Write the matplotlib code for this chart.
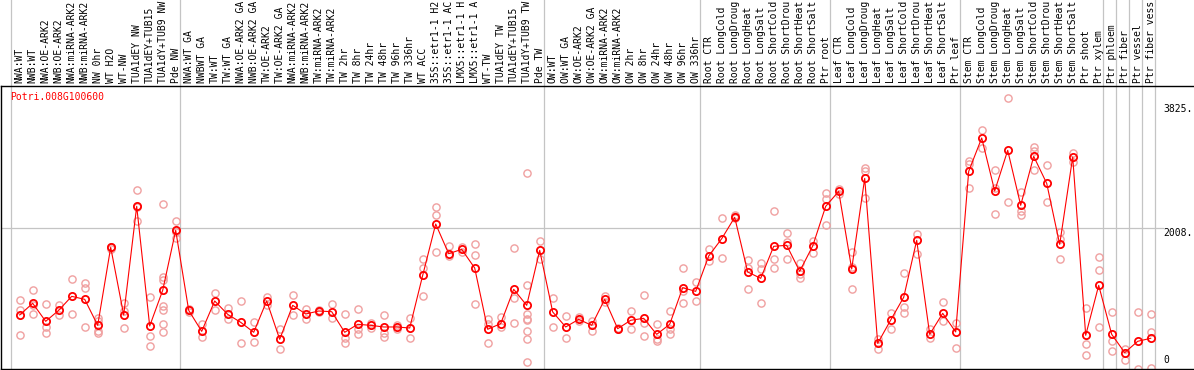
import matplotlib
matplotlib.use("Agg")
import matplotlib.pyplot as plt
import matplotlib.transforms as mtransforms

gene = "Potri.008G100600"

labels = [
    "NWA:WT", "NWB:WT", "NWA:OE-ARK2", "NWB:OE-ARK2", "NWA:miRNA-ARK2", "NWB:miRNA-ARK2",
    "NW 0hr", "WT H2O", "WT-NW", "TUA1dEY NW", "TUA1dEY+TUB15", "TUA1dY+TUB9 NW", "Pde NW",
    "NWA:WT GA", "NWBWT GA", "TW:WT", "TW:WT GA", "NWA:OE-ARK2 GA", "NWB:OE-ARK2 GA",
    "TW:OE-ARK2", "TW:OE-ARK2 GA", "NWA:miRNA-ARK2", "NWB:miRNA-ARK2", "TW:miRNA-ARK2",
    "TW:miRNA-ARK2", "TW 2hr", "TW 8hr", "TW 24hr", "TW 48hr", "TW 96hr", "TW 336hr",
    "WT ACC", "35S::etr1-1 H2", "35S::etr1-1 AC", "LMX5::etr1-1 H", "LMX5::etr1-1 A",
    "WT-TW", "TUA1dEY TW", "TUA1dEY+TUB15", "TUA1dY+TUB9 TW", "Pde TW",
    "OW:WT", "OW:WT GA", "OW:OE-ARK2", "OW:OE-ARK2 GA", "OW:miRNA-ARK2", "OW:miRNA-ARK2",
    "OW 2hr", "OW 8hr", "OW 24hr", "OW 48hr", "OW 96hr", "OW 336hr",
    "Root CTR", "Root LongCold", "Root LongDroug", "Root LongHeat", "Root LongSalt",
    "Root ShortCold", "Root ShortDrou", "Root ShortHeat", "Root ShortSalt", "Ptr root",
    "Leaf CTR", "Leaf LongCold", "Leaf LongDroug", "Leaf LongHeat", "Leaf LongSalt",
    "Leaf ShortCold", "Leaf ShortDrou", "Leaf ShortHeat", "Leaf ShortSalt", "Ptr leaf",
    "Stem CTR", "Stem LongCold", "Stem LongDroug", "Stem LongHeat", "Stem LongSalt",
    "Stem ShortCold", "Stem ShortDrou", "Stem ShortHeat", "Stem ShortSalt",
    "Ptr shoot", "Ptr xylem", "Ptr phloem", "Ptr fiber", "Ptr vessel", "Ptr fiber vess",
]

means = [
    738, 909, 645, 806, 1011, 967, 586, 1729, 738, 2330, 576, 1099, 1978,
    806, 498, 943, 747, 630, 484, 943, 381, 879, 752, 796, 786, 484, 601, 586, 562, 562,
    547, 1319, 2071, 1636, 1700, 1426, 528, 611, 1114, 879, 1685,
    782, 562, 674, 586, 967, 537, 660, 689, 454, 601, 1138, 1084,
    1602, 1856, 2169, 1368, 1275, 1744, 1759, 1378, 1749, 2330,
    2550, 1412, 2740, 322, 664, 997, 1832, 454, 762, 489,
    2843, 3332, 2555, 3151, 2345, 3063, 2667, 1773, 3053, 440, 1172,
    454, 186, 352, 396,
]

replicates = [
    [953, 811, 440], [1099, 747, 880], [894, 562, 469], [884, 733], [1260, 747],
    [1202, 1133, 557], [689, 645, 503, 469], [1740, 1729, 1700], [909, 796, 542],
    [2565, 2110, 2320], [997, 430, 278], [2359, 1295, 1255, 870, 811, 606, 493],
    [2110, 1950, 1871],
    [830, 806, 780], [606, 410], [1055, 811], [835, 679], [943, 327], [630, 337],
    [1006, 879], [532, 234], [1026, 733], [830, 674], [811, 777], [894, 689],
    [747, 405, 327], [821, 528, 454], [625, 552], [733, 479, 415], [586, 528],
    [689, 405], [1553, 1421, 1011], [2315, 2198, 1666], [1744, 1597], [1739, 1666],
    [1773, 1612, 894], [674, 606, 322], [708, 567], [1715, 982, 625],
    [2814, 1172, 757, 674, 660, 498, 381, 44], [1822, 1553],
    [982, 557], [723, 396], [708, 645], [650, 503], [1016, 928], [552, 530],
    [791, 532], [1026, 625, 430], [601, 381, 352], [791, 528, 454], [1421, 1089, 909],
    [1216, 943],
    [1700, 1529], [2154, 1568], [2208, 2188, 2160], [1544, 1431, 1119],
    [1495, 1407, 909], [2257, 1553, 1426], [1934, 1807, 1558], [1505, 1343, 1275],
    [1822, 1651], [2525, 2433, 2052],
    [2579, 2506], [1666, 1440, 1119], [2887, 2848, 2457], [381, 244], [762, 528],
    [1348, 860, 772], [1920, 1636], [528, 396], [928, 650], [625, 249],
    [3000, 2955, 2599], [3449, 3190], [2863, 2599, 2213], [3913, 2389],
    [2540, 2267, 2208], [3200, 3141, 2863], [2936, 2389], [1959, 1847, 1553],
    [3117, 2985], [840, 308, 147], [1583, 1397, 562],
    [782, 357, 205], [234, 78], [782, -60], [747, 489, -39],
]

group_starts = [0, 13, 41, 53, 63, 73, 84, 85, 86, 87, 88]
ytick_values = [3825, 2008, 0]
ytick_texts = ["3825.", "2008.", "0"]

W, H = 1194, 370
fig = plt.figure(figsize=(W / 100, H / 100), dpi=100)
ax_top_px, ax_bot_px = 86, 369
ax = fig.add_axes([1 / W, (H - ax_bot_px) / H, (W - 1) / W, (ax_bot_px - ax_top_px) / H])

x0_px, step_px = 19.7, 13.0
ax.set_xlim((1 - x0_px) / step_px, (W - x0_px) / step_px)
ax.set_ylim(-54, 4094)
ax.set_xticks([])
ax.set_yticks([])
for s in ["left", "top", "bottom"]:
    ax.spines[s].set_color("black")
    ax.spines[s].set_linewidth(1.0)
ax.spines["right"].set_visible(False)

mono = "DejaVu Sans Mono"
grid_c = "#c4c4c4"
ext = (ax_bot_px - 0) / (ax_bot_px - ax_top_px)

# vertical separators (extend through label area)
for k in group_starts:
    ax.axvline(k - 0.669, ymin=0, ymax=ext, color=grid_c, lw=0.9, clip_on=False, zorder=0)

# horizontal gridline at 2008
ax.axhline(2008, xmin=0, xmax=(1163 - 1) / (W - 1), color=grid_c, lw=0.9, zorder=0)

xs = list(range(len(means)))

# replicates
rx, ry = [], []
for i, reps in enumerate(replicates):
    for v in reps:
        rx.append(i)
        ry.append(v)
ax.plot(rx, ry, linestyle="none", marker="o", markersize=5.2, markerfacecolor="none",
        markeredgecolor="#f0a0a0", markeredgewidth=1.0, zorder=2, clip_on=True)

# mean line & markers
ax.plot(xs, means, color="#ff0000", lw=0.8, zorder=3)
ax.plot(xs, means, linestyle="none", marker="o", markersize=5.2, markerfacecolor="none",
        markeredgecolor="#ff0000", markeredgewidth=1.3, zorder=4)

# column labels
trans = mtransforms.blended_transform_factory(ax.transData, ax.transAxes)
for i, lab in enumerate(labels):
    ax.annotate(lab, xy=(i, 1), xycoords=trans, xytext=(0, 2.2), textcoords="offset points",
                rotation=90, ha="center", va="bottom", fontsize=7, family=mono,
                color="black", annotation_clip=False)

# gene name
fig.text(10 / W, 1 - 97 / H, gene, color="#ff0000", fontsize=7, family=mono,
         ha="left", va="center")

# right side value labels
xt = (1163 - x0_px) / step_px
for v, t in zip(ytick_values, ytick_texts):
    if v == 0:
        ax.text(xt, v, t, ha="left", va="bottom", fontsize=7, family=mono, color="black")
    else:
        ax.text(xt, v, t, ha="left", va="top", fontsize=7, family=mono, color="black")

fig.savefig("out.png", dpi=100)
